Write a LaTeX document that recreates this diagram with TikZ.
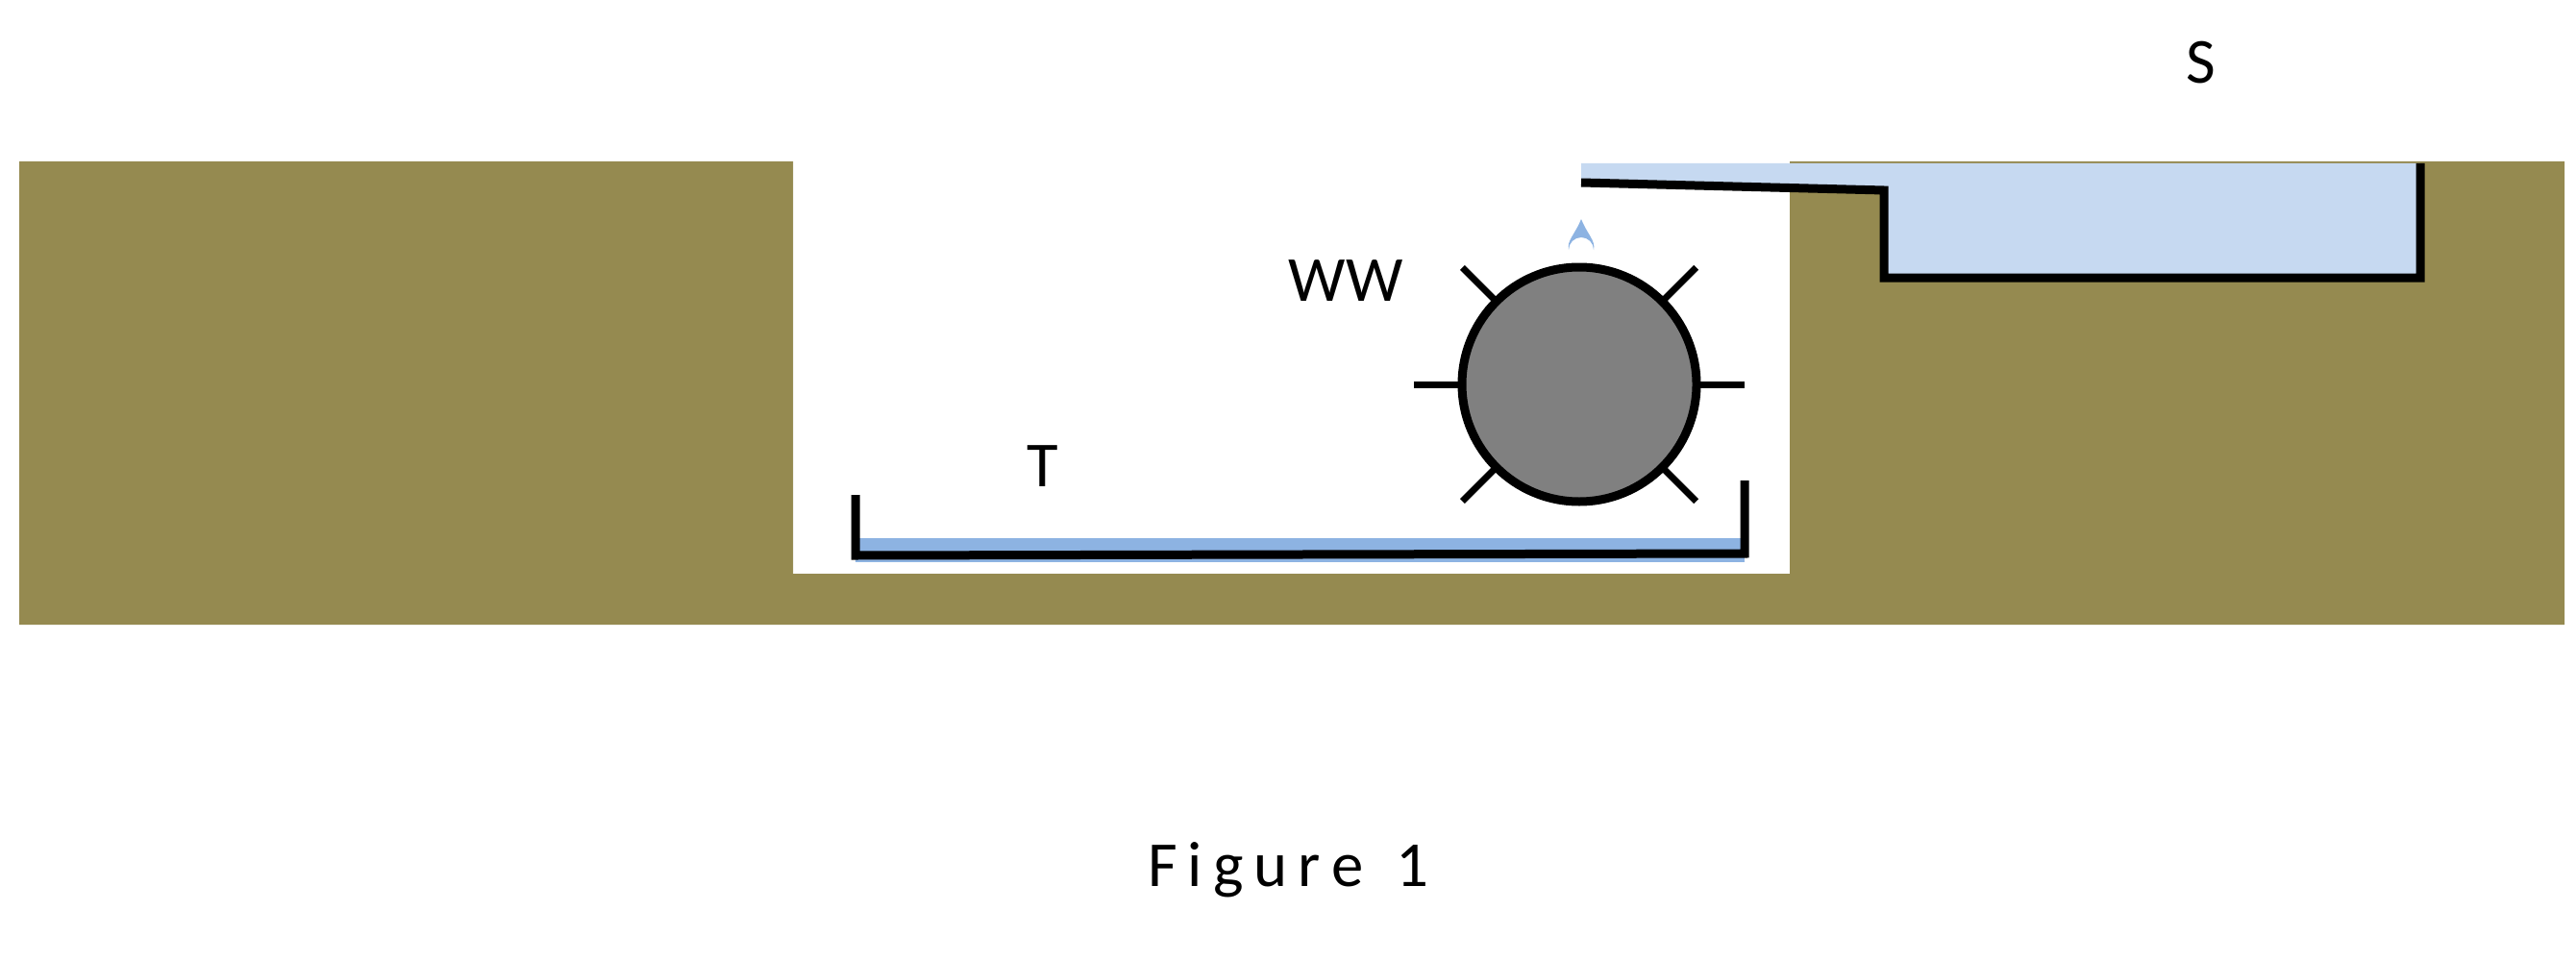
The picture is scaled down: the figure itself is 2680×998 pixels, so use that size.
\documentclass[tikz,border=0pt]{standalone}
\usepackage{fontspec}
\setmainfont{Carlito}
\usetikzlibrary{calc}
\definecolor{ground}{HTML}{958A50}
\definecolor{water}{HTML}{C6D9F1}
\definecolor{dropc}{HTML}{8DB3E2}
\definecolor{wheelc}{HTML}{808080}
\begin{document}
\begin{tikzpicture}[x=0.1mm,y=-0.1mm,
  lbl/.style={font=\fontsize{19}{22}\selectfont, inner sep=0pt},
  blk/.style={line width=1.3mm, black}]
\useasboundingbox (0,0) rectangle (2680,998);
\fill[white] (0,0) rectangle (2680,998);
% ground
\fill[ground] (20,168) -- (825,168) -- (825,597) -- (1862,597) -- (1862,168) -- (2668,168) -- (2668,650) -- (20,650) -- cycle;
% tank S
\fill[water] (1645,170) -- (2518,170) -- (2518,290) -- (1960,290) -- (1960,200) -- (1645,192) -- cycle;
\draw[blk, line width=0.9mm] (1645,190) -- (1960,198) -- (1960,289) -- (2518,289) -- (2518,170);
% drop
\fill[dropc] (1645,228) .. controls (1652,245) and (1660,250) .. (1658,260) arc (0:-180:13) .. controls (1630,250) and (1638,245) .. (1645,228);
% wheel
\node[circle, draw, line width=0.9mm, fill=wheelc, minimum size=24.4mm, inner sep=0pt] (ww) at (1643,400) {};
\foreach \a in {0,45,135,180,225,315}
  \draw[line width=0.7mm] ($(ww.center)+(\a:122)$) -- ($(ww.center)+(\a:172)$);
% tray T
\fill[dropc] (890,560) rectangle (1815,585);
\draw[line width=0.9mm] (890,515) -- (890,578) -- (1815,576) -- (1815,500);
% labels
\node[lbl] (lww) at (1400,292) {WW};
\node[lbl] (lt) at (1085,485) {T};
\node[lbl] (ls) at (2290,65) {S};
\node[lbl] (fig) at (1340,905) {F\,i\,g\,u\,r\,e\,\,\,1};
\end{tikzpicture}
\end{document}
